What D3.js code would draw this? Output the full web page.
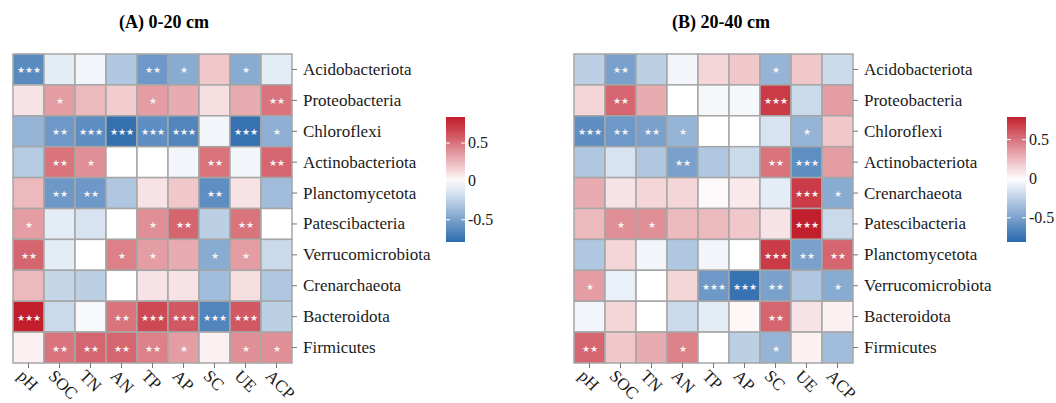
<!DOCTYPE html>
<html>
<head>
<meta charset="utf-8">
<script src="https://cdn.jsdelivr.net/npm/d3@7"></script>
<style>
  body { margin: 0; background: #fff; }
  text { font-family: "Liberation Serif", "Times New Roman", serif; }
</style>
</head>
<body>
<div id="chart"></div>
<script>
var svgWidth = 1056;
var svgHeight = 403;

// soil properties (columns)
var properties = ["pH", "SOC", "TN", "AN", "TP", "AP", "SC", "UE", "ACP"];

// 0-20 cm
var taxaA = ["Acidobacteriota", "Proteobacteria", "Chloroflexi", "Actinobacteriota", "Planctomycetota",
  "Patescibacteria", "Verrucomicrobiota", "Crenarchaeota", "Bacteroidota", "Firmicutes"];
var corrA = [
  [-0.62, -0.10, -0.05, -0.30, -0.55, -0.45, 0.20, -0.45, -0.10],
  [0.10, 0.35, 0.25, 0.18, 0.35, 0.30, 0.12, 0.30, 0.50],
  [-0.40, -0.55, -0.60, -0.76, -0.60, -0.65, -0.05, -0.75, -0.42],
  [-0.28, 0.50, 0.40, 0.00, 0.00, -0.05, 0.50, -0.05, 0.55],
  [0.25, -0.55, -0.55, -0.30, 0.10, 0.20, -0.60, 0.10, -0.35],
  [0.35, -0.10, -0.15, 0.00, 0.40, 0.55, -0.25, 0.50, 0.00],
  [0.55, -0.10, 0.00, 0.45, 0.35, 0.30, -0.45, 0.35, -0.20],
  [0.25, -0.22, -0.25, 0.00, 0.10, 0.10, -0.35, 0.12, -0.30],
  [0.82, -0.20, -0.03, 0.50, 0.65, 0.60, -0.65, 0.60, -0.25],
  [0.05, 0.50, 0.55, 0.55, 0.45, 0.35, 0.05, 0.40, 0.40]
];
var signifA = [
  ["***", "", "", "", "**", "*", "", "*", ""],
  ["", "*", "", "", "*", "", "", "", "**"],
  ["", "**", "***", "***", "***", "***", "", "***", "*"],
  ["", "**", "*", "", "", "", "**", "", "**"],
  ["", "**", "**", "", "", "", "**", "", ""],
  ["*", "", "", "", "*", "**", "", "**", ""],
  ["**", "", "", "*", "*", "", "*", "*", ""],
  ["", "", "", "", "", "", "", "", ""],
  ["***", "", "", "**", "***", "***", "***", "***", ""],
  ["", "**", "**", "**", "**", "*", "", "*", "*"]
];

// 20-40 cm
var taxaB = ["Acidobacteriota", "Proteobacteria", "Chloroflexi", "Actinobacteriota", "Crenarchaeota",
  "Patescibacteria", "Planctomycetota", "Verrucomicrobiota", "Bacteroidota", "Firmicutes"];
var corrB = [
  [-0.25, -0.50, -0.25, -0.05, 0.15, 0.20, -0.40, 0.20, -0.20],
  [0.15, 0.55, 0.30, 0.00, -0.04, -0.04, 0.70, -0.20, 0.35],
  [-0.60, -0.55, -0.50, -0.40, 0.00, 0.00, -0.15, -0.40, 0.20],
  [-0.30, -0.15, -0.30, -0.50, -0.30, -0.20, 0.50, -0.60, 0.35],
  [0.30, 0.10, 0.15, 0.15, 0.02, 0.08, -0.10, 0.70, -0.45],
  [0.25, 0.40, 0.40, 0.25, 0.25, 0.20, 0.10, 0.85, -0.20],
  [-0.30, 0.15, -0.05, -0.30, -0.05, 0.00, 0.70, -0.50, 0.55],
  [0.35, -0.08, 0.00, 0.15, -0.55, -0.75, -0.50, -0.30, -0.45],
  [-0.05, 0.15, 0.00, -0.20, -0.10, 0.03, 0.55, 0.10, 0.05],
  [0.55, 0.20, 0.30, 0.45, 0.00, -0.25, -0.40, 0.05, -0.35]
];
var signifB = [
  ["", "**", "", "", "", "", "*", "", ""],
  ["", "**", "", "", "", "", "***", "", ""],
  ["***", "**", "**", "*", "", "", "", "*", ""],
  ["", "", "", "**", "", "", "**", "***", ""],
  ["", "", "", "", "", "", "", "***", "*"],
  ["", "*", "*", "", "", "", "", "***", ""],
  ["", "", "", "", "", "", "***", "**", "**"],
  ["*", "", "", "", "***", "***", "**", "", "*"],
  ["", "", "", "", "", "", "**", "", ""],
  ["**", "", "", "*", "", "", "*", "", ""]
];

var legendTicks = [-0.5, 0, 0.5];
var legendLabels = ["-0.5", "0", "0.5"];

var color = d3.scaleLinear()
  .domain([-0.8, 0, 0.8])
  .range(["#2a69ad", "#ffffff", "#c21f2d"])
  .interpolate(d3.interpolateRgb)
  .clamp(true);

var svg = d3.select("#chart")
  .append("svg")
  .attr("width", svgWidth)
  .attr("height", svgHeight);

// one panel: heatmap + row labels + column labels + colour bar
function drawPanel(opt) {
  var g = svg.append("g");

  var x = d3.scaleBand().domain(properties).range([opt.left, opt.left + 279]);
  var y = d3.scaleBand().domain(opt.taxa).range([54, 363]);

  // title
  g.append("text")
    .attr("x", opt.titleX)
    .attr("y", 28)
    .attr("text-anchor", "middle")
    .attr("font-size", "18px")
    .attr("font-weight", "bold")
    .text(opt.title);

  var cells = [];
  opt.taxa.forEach(function(t, i) {
    properties.forEach(function(p, j) {
      cells.push({ taxon: t, prop: p, r: opt.corr[i][j], sig: opt.signif[i][j] });
    });
  });

  g.selectAll(".cell")
    .data(cells)
    .enter()
    .append("rect")
    .attr("class", "cell")
    .attr("x", d => x(d.prop))
    .attr("y", d => y(d.taxon))
    .attr("width", x.bandwidth())
    .attr("height", y.bandwidth())
    .attr("fill", d => color(d.r))
    .attr("stroke", "#a6a6a6")
    .attr("stroke-width", 1.5);

  g.selectAll(".sig")
    .data(cells.filter(d => d.sig !== ""))
    .enter()
    .append("text")
    .attr("class", "sig")
    .attr("x", d => x(d.prop) + x.bandwidth() / 2)
    .attr("y", d => y(d.taxon) + y.bandwidth() / 2 + 4)
    .attr("text-anchor", "middle")
    .attr("font-family", "DejaVu Sans, sans-serif")
    .attr("font-size", "8.5px")
    .attr("fill", "#f2f2f2")
    .text(d => d.sig.replace(/\*/g, "\u2605"));

  // right axis with taxa names
  var rightAxis = d3.axisRight(y).tickSize(5).tickPadding(6);
  var ra = g.append("g")
    .attr("transform", `translate(${opt.left + 279}, 0)`)
    .call(rightAxis);
  ra.select(".domain").remove();
  ra.selectAll("line").attr("stroke", "#777");
  ra.selectAll("text")
    .attr("font-size", "17px")
    .attr("font-family", "Liberation Serif, Times New Roman, serif")
    .attr("fill", "#1a1a1a");

  // bottom axis, rotated labels
  var bottomAxis = d3.axisBottom(x).tickSize(5).tickPadding(4);
  var ba = g.append("g")
    .attr("transform", "translate(0, 363)")
    .call(bottomAxis);
  ba.select(".domain").remove();
  ba.selectAll("line").attr("stroke", "#777");
  ba.selectAll("text")
    .attr("font-size", "17px")
    .attr("font-family", "Liberation Serif, Times New Roman, serif")
    .attr("fill", "#1a1a1a")
    .attr("text-anchor", "start")
    .attr("dy", null)
    .attr("y", 0)
    .attr("transform", "translate(-12, 14) rotate(45)");

  // colour bar
  var lg = opt.legend;
  var ly = d3.scaleLinear().domain(lg.domain).range([242, 117]);
  var gradId = "grad" + opt.id;
  var grad = svg.append("defs").append("linearGradient")
    .attr("id", gradId)
    .attr("x1", 0).attr("y1", 1).attr("x2", 0).attr("y2", 0);
  d3.range(0, 1.0001, 0.1).forEach(function(t) {
    var v = lg.domain[0] + t * (lg.domain[1] - lg.domain[0]);
    grad.append("stop").attr("offset", t).attr("stop-color", color(v));
  });
  g.append("rect")
    .attr("x", lg.x)
    .attr("y", 117)
    .attr("width", 19)
    .attr("height", 125)
    .attr("fill", `url(#${gradId})`);
  g.selectAll(".ltick")
    .data(legendTicks)
    .enter()
    .append("g")
    .each(function(d, i) {
      var s = d3.select(this);
      s.append("line")
        .attr("x1", lg.x).attr("x2", lg.x + 4)
        .attr("y1", ly(d)).attr("y2", ly(d))
        .attr("stroke", "#fff");
      s.append("line")
        .attr("x1", lg.x + 15).attr("x2", lg.x + 19)
        .attr("y1", ly(d)).attr("y2", ly(d))
        .attr("stroke", "#fff");
      s.append("text")
        .attr("x", lg.x + 22)
        .attr("y", ly(d) + 5)
        .attr("font-size", "16px")
        .attr("fill", "#1a1a1a")
        .text(legendLabels[i]);
    });
}

drawPanel({
  id: "A", left: 13, title: "(A) 0-20 cm", titleX: 164,
  taxa: taxaA, corr: corrA, signif: signifA,
  legend: { x: 446, domain: [-0.79, 0.84] }
});

drawPanel({
  id: "B", left: 574, title: "(B) 20-40 cm", titleX: 721,
  taxa: taxaB, corr: corrB, signif: signifB,
  legend: { x: 1007, domain: [-0.81, 0.79] }
});
</script>
</body>
</html>
